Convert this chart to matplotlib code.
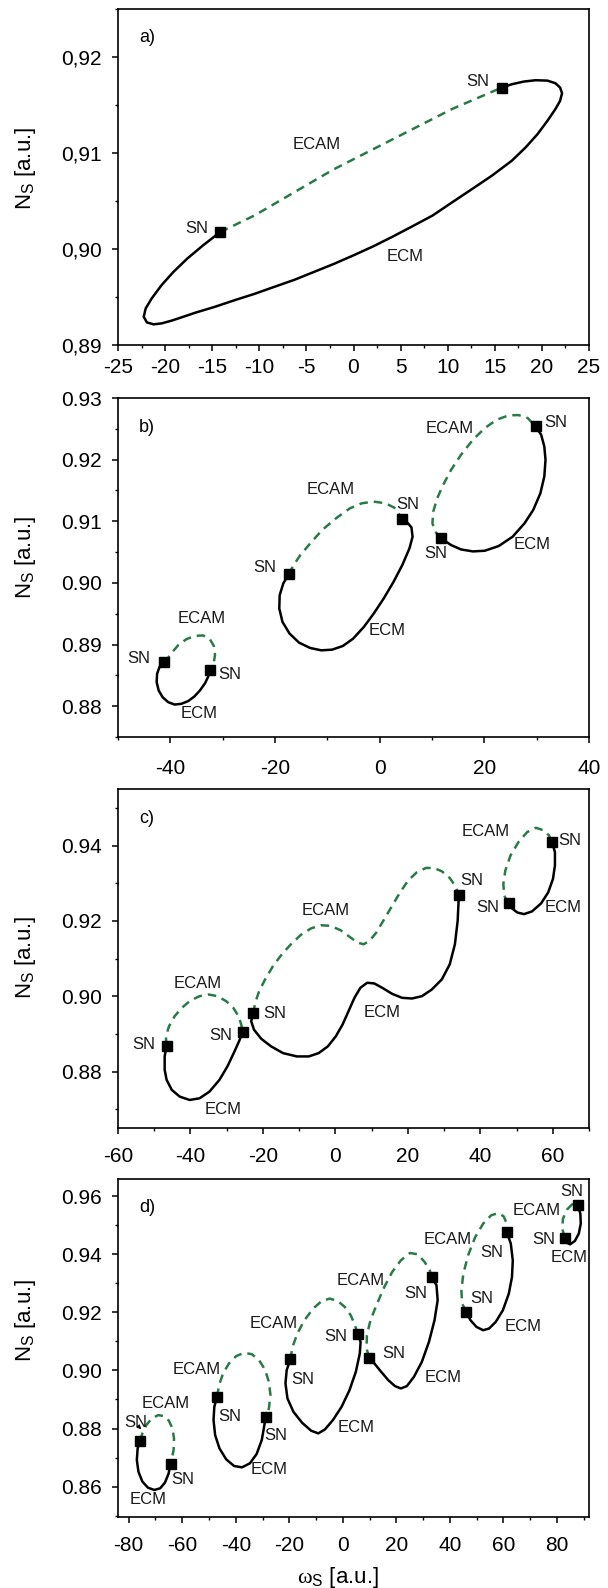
import matplotlib
matplotlib.use('Agg')
import matplotlib.pyplot as plt
from matplotlib.ticker import MultipleLocator

plt.rcParams['font.family'] = ['Liberation Sans', 'DejaVu Sans']
plt.rcParams['mathtext.fontset'] = 'custom'
plt.rcParams['mathtext.rm'] = 'Liberation Serif'
plt.rcParams['mathtext.sf'] = 'Liberation Sans'
plt.rcParams['mathtext.it'] = 'Liberation Serif:italic'

W, H = 608, 1588
GREEN = '#2a7a48'

# ---------------- panel a ----------------
a_ecam_x = [-14.16, -10.5, -6.3, -2.1, 2.1, 6.3, 10.5, 15.76]
a_ecam_y = [0.90176, 0.9035, 0.9059, 0.9083, 0.9104, 0.9125, 0.9146, 0.91682]
a_ecm_x = [15.76, 16.81, 18.07, 19.33, 20.59, 21.43, 21.93, 22.14, 21.93, 21.43, 20.59, 19.54,
           18.28, 16.81, 14.71, 12.61, 10.50, 8.40, 6.30, 4.20, 2.10, 0.0, -2.10, -4.20, -6.30,
           -8.40, -10.50, -12.61, -14.71, -16.81, -18.07, -19.33, -20.38, -21.22, -21.93, -22.27,
           -22.06, -21.43, -20.38, -19.12, -17.65, -15.97, -14.16]
a_ecm_y = [0.91682, 0.91716, 0.91744, 0.91758, 0.91754, 0.91727, 0.91682, 0.91623, 0.91543,
           0.91457, 0.91336, 0.91197, 0.91059, 0.90920, 0.90765, 0.90626, 0.90488, 0.90349,
           0.90239, 0.90131, 0.90028, 0.89934, 0.89844, 0.89761, 0.89678, 0.89606, 0.89533,
           0.89467, 0.89398, 0.89336, 0.89294, 0.89253, 0.89225, 0.89215, 0.89235, 0.89294,
           0.89381, 0.89484, 0.89623, 0.89761, 0.89900, 0.90038, 0.90176]
a_sn_x = [-14.16, 15.76]
a_sn_y = [0.90176, 0.91682]
a_text = [('SN', 13.2, 0.9174), ('ECAM', -3.9, 0.9109), ('SN', -16.6, 0.9021), ('ECM', 5.5, 0.8992)]
a_xticks = [-25, -20, -15, -10, -5, 0, 5, 10, 15, 20, 25]
a_yticks = [0.89, 0.90, 0.91, 0.92]
a_yticklabels = ['0,89', '0,90', '0,91', '0,92']

# ---------------- panel b ----------------
b_ecam_x = [[-41.3, -40.71, -39.80, -38.44, -36.92, -35.25, -33.74, -32.45, -31.69, -31.46, -31.77, -32.37],
            [-17.4, -16.45, -15.16, -13.27, -10.99, -8.34, -5.69, -3.41, -1.14, 1.14, 3.03, 4.32],
            [11.75, 10.61, 10.08, 10.24, 10.99, 12.13, 13.65, 15.54, 17.82, 20.09, 22.37, 24.64,
             26.54, 28.28, 29.80]]
b_ecam_y = [[0.8872, 0.88751, 0.88860, 0.88995, 0.89088, 0.89142, 0.89147, 0.89088, 0.88979,
             0.88833, 0.88670, 0.88591],
            [0.9014, 0.90289, 0.90451, 0.90641, 0.90858, 0.91048, 0.91210, 0.91292, 0.91319,
             0.91292, 0.91210, 0.91031],
            [0.9073, 0.90831, 0.90966, 0.91156, 0.91373, 0.91590, 0.91834, 0.92078, 0.92322,
             0.92512, 0.92648, 0.92718, 0.92723, 0.92675, 0.92539]]
b_ecm_x = [[-41.3, -42.08, -42.53, -42.61, -42.23, -41.47, -40.41, -39.20, -37.91, -36.62, -35.41,
            -34.34, -33.36, -32.75, -32.37],
           [-17.4, -18.42, -19.11, -19.18, -18.57, -17.21, -15.39, -13.27, -11.15, -9.10, -7.05,
            -5.08, -3.03, -1.14, 0.76, 2.65, 4.32, 5.69, 6.29, 6.07, 5.31, 4.32],
           [29.80, 30.86, 31.46, 31.69, 31.46, 30.71, 29.34, 27.67, 25.40, 22.74, 20.09, 17.82,
            15.54, 13.65, 12.51, 11.75]]
b_ecm_y = [[0.8872, 0.88634, 0.88526, 0.88390, 0.88255, 0.88146, 0.88065, 0.88027, 0.88038,
            0.88081, 0.88157, 0.88255, 0.88374, 0.88483, 0.88591],
           [0.9014, 0.89990, 0.89800, 0.89584, 0.89367, 0.89177, 0.89030, 0.88944, 0.88906,
            0.88917, 0.88976, 0.89095, 0.89285, 0.89502, 0.89746, 0.90017, 0.90289, 0.90560,
            0.90749, 0.90901, 0.90977, 0.91031],
           [0.92539, 0.92403, 0.92214, 0.91997, 0.91726, 0.91454, 0.91183, 0.90966, 0.90749,
            0.90598, 0.90522, 0.90511, 0.90543, 0.90614, 0.90679, 0.9073]]
b_sn_x = [-41.3, -32.37, -17.4, 4.32, 11.75, 29.80]
b_sn_y = [0.8872, 0.88591, 0.9014, 0.91031, 0.9073, 0.92539]
b_text = [('ECAM', 13.3, 0.9250), ('SN', 33.7, 0.9261), ('ECAM', -9.3, 0.9151), ('SN', 5.3, 0.9128),
          ('SN', 10.8, 0.9048), ('ECM', 29.2, 0.9063), ('SN', -21.9, 0.9025), ('ECAM', -34.1, 0.8943),
          ('ECM', 1.5, 0.8922), ('SN', -46.0, 0.8878), ('SN', -28.6, 0.8852), ('ECM', -34.5, 0.8788)]
b_xticks = [-40, -20, 0, 20, 40]
b_yticks = [0.88, 0.89, 0.90, 0.91, 0.92, 0.93]
b_yticklabels = ['0.88', '0.89', '0.90', '0.91', '0.92', '0.93']

# ---------------- panel c ----------------
c_ecam_x = [[-46.6, -46.79, -45.92, -44.38, -42.41, -40.00, -37.48, -34.96, -32.55, -30.14, -28.16,
             -26.74, -25.97, -25.6],
            [-22.7, -22.14, -21.04, -19.40, -17.21, -14.79, -12.27, -9.53, -6.79, -4.05, -1.32,
             1.42, 3.95, 6.14, 7.78, 9.42, 11.29, 13.48, 15.67, 17.86, 20.05, 22.47, 24.99, 27.18,
             29.37, 31.56, 33.21, 34.08],
            [47.8, 46.58, 46.36, 46.90, 48.33, 50.52, 52.93, 55.34, 57.53, 58.96, 59.8]]
c_ecam_y = [[0.8868, 0.88933, 0.89200, 0.89467, 0.89689, 0.89884, 0.90000, 0.90044, 0.90000,
             0.89867, 0.89689, 0.89467, 0.89244, 0.8905],
            [0.8954, 0.89822, 0.90133, 0.90444, 0.90800, 0.91111, 0.91378, 0.91627, 0.91796,
             0.91884, 0.91867, 0.91751, 0.91573, 0.91422, 0.91378, 0.91467, 0.91689, 0.92044,
             0.92400, 0.92756, 0.93067, 0.93289, 0.93404, 0.93404, 0.93316, 0.93138, 0.92907,
             0.92684],
            [0.9247, 0.92667, 0.92978, 0.93333, 0.93733, 0.94089, 0.94356, 0.94471, 0.94400,
             0.94267, 0.9409]]
c_ecm_x = [[-46.6, -47.12, -47.12, -46.58, -45.15, -42.96, -40.22, -37.48, -34.74, -32.00, -29.81,
            -27.84, -26.52, -25.6],
           [-22.7, -23.23, -22.47, -20.49, -17.75, -14.47, -10.63, -7.34, -4.60, -2.08, 0.11, 1.97,
            3.62, 5.26, 6.90, 8.77, 10.74, 12.93, 15.67, 18.41, 21.15, 23.89, 26.63, 29.37, 31.56,
            32.99, 33.75, 34.08],
           [59.8, 60.60, 60.60, 60.05, 58.74, 56.77, 54.25, 52.05, 50.19, 48.77, 47.8]]
c_ecm_y = [[0.8868, 0.88400, 0.88044, 0.87778, 0.87511, 0.87333, 0.87244, 0.87289, 0.87467,
            0.87778, 0.88133, 0.88533, 0.88818, 0.8905],
           [0.8954, 0.89333, 0.89111, 0.88871, 0.88667, 0.88489, 0.88400, 0.88400, 0.88489,
            0.88667, 0.88933, 0.89244, 0.89600, 0.89956, 0.90222, 0.90356, 0.90338, 0.90222,
            0.90062, 0.89956, 0.89938, 0.90000, 0.90178, 0.90444, 0.90844, 0.91378, 0.92000,
            0.92684],
           [0.9409, 0.93822, 0.93467, 0.93111, 0.92756, 0.92462, 0.92249, 0.92178, 0.92222,
            0.92329, 0.9247]]
c_sn_x = [-46.6, -25.6, -22.7, 34.08, 47.8, 59.8]
c_sn_y = [0.8868, 0.8905, 0.8954, 0.92684, 0.9247, 0.9409]
c_text = [('ECAM', 41.4, 0.9438), ('SN', 64.8, 0.9413), ('SN', 37.6, 0.9307), ('SN', 42.0, 0.9236),
          ('ECM', 62.8, 0.9236), ('ECAM', -2.7, 0.9227), ('ECAM', -38.0, 0.9033), ('SN', -16.7, 0.8954),
          ('ECM', 12.9, 0.8956), ('SN', -31.5, 0.8896), ('SN', -52.8, 0.8871), ('ECM', -30.9, 0.8700)]
c_xticks = [-60, -40, -20, 0, 20, 40, 60]
c_yticks = [0.88, 0.90, 0.92, 0.94]
c_yticklabels = ['0.88', '0.90', '0.92', '0.94']

# ---------------- panel d ----------------
d_ecam_x = [[-75.8, -74.89, -73.41, -71.34, -68.98, -66.91, -64.99, -63.66, -63.07, -63.22, -64.3],
            [-47.0, -46.23, -44.76, -42.54, -39.88, -36.93, -33.98, -31.31, -29.10, -27.62, -27.03,
             -27.62, -28.8],
            [-19.6, -18.76, -16.99, -14.33, -11.08, -7.83, -4.87, -1.92, 0.74, 2.95, 4.58, 5.5],
            [9.9, 8.86, 9.01, 10.34, 12.56, 15.51, 18.46, 21.71, 25.11, 28.06, 30.58, 32.50, 33.2],
            [46.1, 44.61, 44.31, 45.05, 46.82, 49.48, 52.44, 55.39, 58.05, 60.12, 61.30, 61.3],
            [83.0, 81.98, 82.27, 83.75, 85.67, 87.15, 87.9]]
d_ecam_y = [[0.8758, 0.87832, 0.88119, 0.88348, 0.88463, 0.88429, 0.88268, 0.88004, 0.87660,
             0.87258, 0.8678],
            [0.8909, 0.89495, 0.89897, 0.90241, 0.90494, 0.90608, 0.90562, 0.90356, 0.90035,
             0.89610, 0.89151, 0.88692, 0.8838],
            [0.9038, 0.90815, 0.91274, 0.91733, 0.92134, 0.92398, 0.92478, 0.92398, 0.92191,
             0.91905, 0.91560, 0.9127],
            [0.9044, 0.90757, 0.91216, 0.91732, 0.92249, 0.92880, 0.93396, 0.93797, 0.94050,
             0.94004, 0.93740, 0.93453, 0.9322],
            [0.9202, 0.92306, 0.92765, 0.93339, 0.93969, 0.94600, 0.95059, 0.95346, 0.95426,
             0.95312, 0.95059, 0.9477],
            [0.9458, 0.94887, 0.95231, 0.95541, 0.95725, 0.95748, 0.9569]]
d_ecm_x = [[-75.8, -76.66, -76.96, -76.37, -74.89, -72.82, -70.46, -68.24, -66.47, -65.14, -64.3],
           [-47.0, -48.01, -48.30, -47.71, -46.09, -43.57, -40.62, -37.67, -34.71, -32.20, -30.28,
            -28.8],
           [-19.6, -20.97, -21.42, -20.68, -18.46, -15.21, -11.82, -9.16, -6.65, -3.69, -0.44, 2.51,
            4.87, 6.35, 6.65, 5.5],
           [9.9, 11.82, 14.33, 16.99, 19.50, 21.71, 23.93, 26.59, 29.54, 32.20, 34.27, 35.45, 35.01,
            33.2],
           [61.3, 62.78, 63.52, 63.22, 62.04, 59.82, 57.16, 54.65, 52.44, 49.93, 47.71, 46.1],
           [87.9, 88.77, 88.92, 88.18, 86.71, 84.93, 83.46, 83.0]]
d_ecm_y = [[0.8758, 0.87316, 0.86914, 0.86513, 0.86169, 0.85962, 0.85882, 0.85939, 0.86134,
            0.86433, 0.8678],
           [0.8909, 0.88749, 0.88291, 0.87775, 0.87316, 0.86937, 0.86708, 0.86662, 0.86800,
            0.87121, 0.87603, 0.8838],
           [0.9038, 0.90012, 0.89553, 0.89037, 0.88578, 0.88199, 0.87924, 0.87832, 0.87970,
            0.88291, 0.88750, 0.89323, 0.89954, 0.90585, 0.90987, 0.9127],
           [0.9044, 0.90241, 0.89954, 0.89668, 0.89461, 0.89381, 0.89461, 0.89782, 0.90298,
            0.90987, 0.91732, 0.92421, 0.92937, 0.9322],
           [0.9477, 0.94371, 0.93797, 0.93224, 0.92650, 0.92077, 0.91675, 0.91446, 0.91388,
            0.91503, 0.91733, 0.9202],
           [0.9569, 0.95403, 0.95059, 0.94715, 0.94463, 0.94348, 0.94417, 0.9458]]
d_sn_x = [-75.8, -64.3, -47.0, -28.8, -19.6, 5.5, 9.9, 33.2, 46.1, 61.3, 83.0, 87.9]
d_sn_y = [0.8758, 0.8678, 0.8909, 0.8838, 0.9038, 0.9127, 0.9044, 0.9322, 0.9202, 0.9477,
          0.9458, 0.9569]
d_text = [('SN', 85.7, 0.9618), ('ECAM', 72.4, 0.9550), ('SN', 75.0, 0.9452), ('ECM', 84.6, 0.9391),
          ('ECAM', 39.1, 0.9451), ('SN', 55.8, 0.9408), ('ECAM', 6.6, 0.9311), ('SN', 27.3, 0.9265),
          ('SN', 52.1, 0.9248), ('ECM', 67.2, 0.9150), ('ECAM', -25.8, 0.9162), ('SN', -2.5, 0.9116),
          ('SN', 19.2, 0.9059), ('ECM', 37.4, 0.8975), ('ECAM', -54.7, 0.9003), ('SN', -15.1, 0.8969),
          ('ECAM', -66.0, 0.8886), ('SN', -42.4, 0.8843), ('ECM', 4.9, 0.8804), ('SN', -25.1, 0.8777),
          ('SN', -77.5, 0.8820), ('ECM', -27.6, 0.8659), ('SN', -59.8, 0.8623), ('ECM', -72.8, 0.8556)]
d_xticks = [-80, -60, -40, -20, 0, 20, 40, 60, 80]
d_yticks = [0.86, 0.88, 0.90, 0.92, 0.94, 0.96]
d_yticklabels = ['0.86', '0.88', '0.90', '0.92', '0.94', '0.96']

YLABEL = r'N$_\mathsf{S}$ [a.u.]'
XLABEL = r'$\mathrm{\omega}_\mathsf{S}$ [a.u.]'


def rect(l, t, r, b):
    return [l / W, 1 - b / H, (r - l) / W, (b - t) / H]


def style_axis(ax, box, xlim, ylim, xticks, xminor, yticks, ylabels, yminor, xpad, panel, ylab_y):
    l, t, r, b = box
    ax.set_xlim(*xlim)
    ax.set_ylim(*ylim)
    ax.set_xticks(xticks)
    ax.set_xticklabels([str(v) for v in xticks])
    ax.xaxis.set_minor_locator(MultipleLocator(xminor))
    ax.set_yticks(yticks)
    ax.set_yticklabels(ylabels)
    ax.yaxis.set_minor_locator(MultipleLocator(yminor))
    ax.tick_params(which='major', direction='out', length=4.5, width=1.1, labelsize=15)
    ax.tick_params(which='minor', direction='out', length=2.5, width=1.0)
    ax.tick_params(axis='x', which='major', pad=xpad)
    ax.tick_params(axis='y', which='major', pad=7)
    for s in ax.spines.values():
        s.set_linewidth(1.2)
    ax.text(29 / (r - l), 1 - 29 / (b - t), panel, transform=ax.transAxes,
            fontsize=13, ha='center', va='center')
    fig.text(26 / W, 1 - ylab_y / H, YLABEL, rotation=90, fontsize=16,
             ha='center', va='center')


def draw_loops(ax, ecam_x, ecam_y, ecm_x, ecm_y, sn_x, sn_y, texts):
    for xs, ys in zip(ecam_x, ecam_y):
        ax.plot(xs, ys, color=GREEN, lw=1.8, ls=(0, (3.4, 2.4)), dash_capstyle='butt')
    for xs, ys in zip(ecm_x, ecm_y):
        ax.plot(xs, ys, color='black', lw=1.8, solid_joinstyle='round', solid_capstyle='round')
    ax.plot(sn_x, sn_y, ls='none', marker='s', ms=7.5, color='black', zorder=5)
    for s, x, y in texts:
        ax.text(x, y, s, fontsize=12, ha='center', va='center', color='#1a1a1a')


fig = plt.figure(figsize=(W / 100, H / 100), dpi=100)

box_a = (118, 9, 589, 345)
ax_a = fig.add_axes(rect(*box_a))
draw_loops(ax_a, [a_ecam_x], [a_ecam_y], [a_ecm_x], [a_ecm_y], a_sn_x, a_sn_y, a_text)
style_axis(ax_a, box_a, (-25, 25), (0.89, 0.925), a_xticks, 2.5, a_yticks, a_yticklabels,
           0.005, 5, 'a)', 168)

box_b = (118, 398, 589, 737)
ax_b = fig.add_axes(rect(*box_b))
draw_loops(ax_b, b_ecam_x, b_ecam_y, b_ecm_x, b_ecm_y, b_sn_x, b_sn_y, b_text)
style_axis(ax_b, box_b, (-50, 40), (0.875, 0.93), b_xticks, 10, b_yticks, b_yticklabels,
           0.005, 11, 'b)', 557)

box_c = (118, 789, 589, 1128)
ax_c = fig.add_axes(rect(*box_c))
draw_loops(ax_c, c_ecam_x, c_ecam_y, c_ecm_x, c_ecm_y, c_sn_x, c_sn_y, c_text)
style_axis(ax_c, box_c, (-60, 70), (0.865, 0.955), c_xticks, 10, c_yticks, c_yticklabels,
           0.01, 9, 'c)', 957)

box_d = (118, 1179, 589, 1517)
ax_d = fig.add_axes(rect(*box_d))
draw_loops(ax_d, d_ecam_x, d_ecam_y, d_ecm_x, d_ecm_y, d_sn_x, d_sn_y, d_text)
style_axis(ax_d, box_d, (-84, 92), (0.8495, 0.966), d_xticks, 10, d_yticks, d_yticklabels,
           0.01, 9.5, 'd)', 1320)
ax_d.annotate('', xy=(-74.6, 0.8790), xytext=(-76.6, 0.8810),
              arrowprops=dict(arrowstyle='-|>', lw=0.8, color='black', mutation_scale=6))
fig.text(338 / W, 1 - 1577 / H, XLABEL, fontsize=16, ha='center', va='center')

fig.savefig('out.png', dpi=100)
